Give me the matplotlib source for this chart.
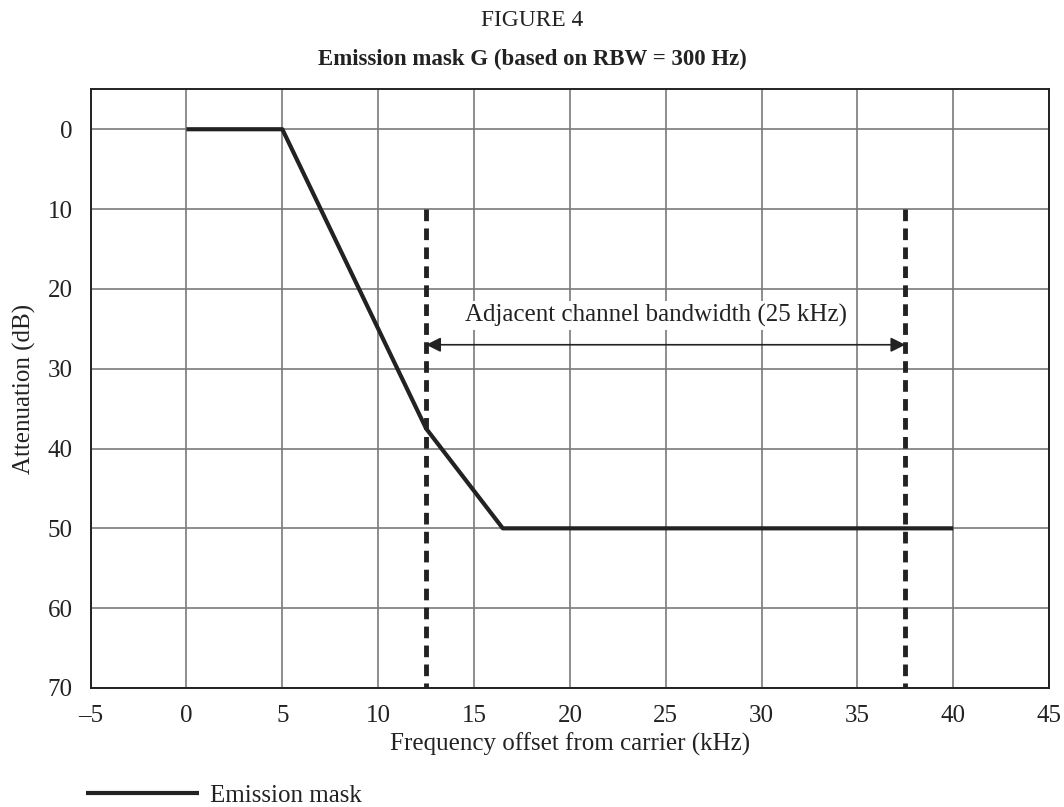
import matplotlib
matplotlib.use("Agg")
import matplotlib.pyplot as plt

# mask corner points (kHz, dB attenuation)
mask_freq = [0, 5, 12.5, 16.5, 40]
mask_att = [0, 0, 37.5, 50, 50]

# adjacent channel edges
adj_edges = [12.5, 37.5]
adj_top = 10
adj_arrow_y = 27
adj_label = "Adjacent channel bandwidth (25 kHz)"

x_ticks = [-5, 0, 5, 10, 15, 20, 25, 30, 35, 40, 45]
y_ticks = [0, 10, 20, 30, 40, 50, 60, 70]

plt.rcParams["font.family"] = ["Liberation Serif", "DejaVu Serif"]
INK = "#222222"

fig = plt.figure(figsize=(10.64, 8.07), dpi=100)
ax = fig.add_axes([0.0852, 0.1475, 0.9008, 0.7418])

ax.set_xlim(-5, 45)
ax.set_ylim(70, -5)
ax.set_xticks(x_ticks)
ax.set_xticklabels([("\u2013" + str(-t)) if t < 0 else str(t) for t in x_ticks])
ax.set_yticks(y_ticks)
ax.tick_params(length=0, labelsize=18, colors=INK)
ax.tick_params(axis="x", pad=12)
ax.tick_params(axis="y", pad=13)
ax.grid(True, color="#7a7a7a", lw=1.2)
ax.set_axisbelow(True)
for s in ax.spines.values():
    s.set_linewidth(1.4)
    s.set_color(INK)

ax.plot(mask_freq, mask_att, color=INK, lw=3, solid_capstyle="butt",
        label="Emission mask", zorder=4)

for xe in adj_edges:
    ax.plot([xe, xe], [adj_top, 70], color=INK, lw=3.5,
            dashes=(2.4, 1.5), zorder=3)

ax.annotate("", xy=(adj_edges[0], adj_arrow_y), xytext=(adj_edges[1], adj_arrow_y),
            arrowprops=dict(arrowstyle="<|-|>", color=INK, lw=1.2,
                            mutation_scale=22, shrinkA=0, shrinkB=0), zorder=5)
ax.text(24.5, adj_arrow_y - 3.7, adj_label, ha="center", va="center",
        fontsize=18, color=INK, zorder=5,
        bbox=dict(facecolor="white", edgecolor="none", pad=2))

ax.set_xlabel("Frequency offset from carrier (kHz)", fontsize=18, color=INK, labelpad=4)
ax.set_ylabel("Attenuation (dB)", fontsize=18, color=INK, labelpad=8)

fig.text(0.5, 0.9678, "FIGURE 4", ha="center", va="baseline", fontsize=16.8, color=INK)
fig.text(0.5, 0.9195, "Emission mask G (based on RBW = 300 Hz)", ha="center",
         va="baseline", fontsize=16.5, fontweight="bold", color=INK)

fig.legend(loc="center left", bbox_to_anchor=(0.060, 0.0145), frameon=False,
           handlelength=4.5, handletextpad=0.45, fontsize=18, labelcolor=INK)

fig.savefig("out.png", dpi=100)
